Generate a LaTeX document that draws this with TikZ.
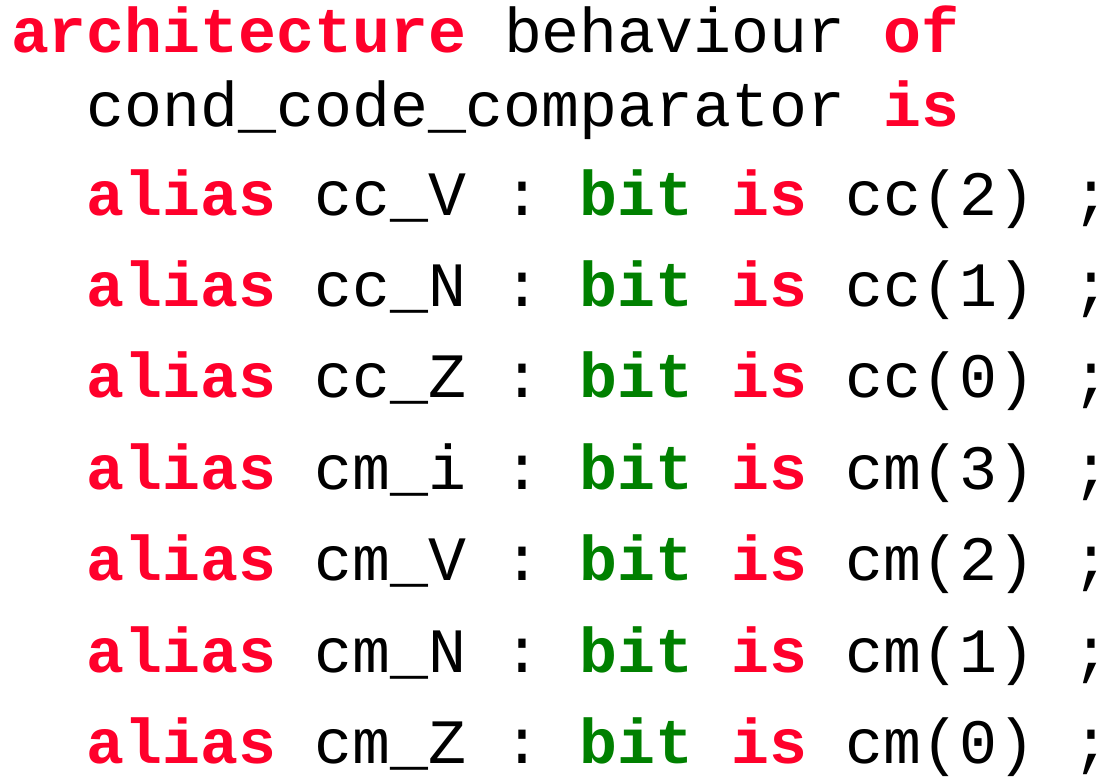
\documentclass[tikz,border=0pt]{standalone}
\usepackage{fontspec}
\setmonofont{Liberation Mono}
\definecolor{kwred}{RGB}{255,0,43}
\definecolor{kwgreen}{RGB}{0,128,0}
\newcommand{\kw}[1]{\textcolor{kwred}{\bfseries #1}}
\newcommand{\ty}[1]{\textcolor{kwgreen}{\bfseries #1}}
\tikzset{codeline/.style={anchor=base west, inner sep=0pt, outer sep=0pt, font=\ttfamily\fontsize{31.6}{38}\selectfont, text=black}}
\begin{document}
\begin{tikzpicture}[x=0.5pt,y=-0.5pt]
\useasboundingbox (0,0) rectangle (1114,777);
\node[codeline] (l1) at (11,52) {\kw{architecture} behaviour \kw{of}};
\node[codeline] (l2) at (86.8,126) {cond\_code\_comparator \kw{is}};
\node[codeline] (l3) at (86.8,215) {\kw{alias} cc\_V : \ty{bit} \kw{is} cc(2) ;};
\node[codeline] (l4) at (86.8,306) {\kw{alias} cc\_N : \ty{bit} \kw{is} cc(1) ;};
\node[codeline] (l5) at (86.8,397) {\kw{alias} cc\_Z : \ty{bit} \kw{is} cc(0) ;};
\node[codeline] (l6) at (86.8,489) {\kw{alias} cm\_i : \ty{bit} \kw{is} cm(3) ;};
\node[codeline] (l7) at (86.8,580) {\kw{alias} cm\_V : \ty{bit} \kw{is} cm(2) ;};
\node[codeline] (l8) at (86.8,672) {\kw{alias} cm\_N : \ty{bit} \kw{is} cm(1) ;};
\node[codeline] (l9) at (86.8,763) {\kw{alias} cm\_Z : \ty{bit} \kw{is} cm(0) ;};
\end{tikzpicture}
\end{document}
